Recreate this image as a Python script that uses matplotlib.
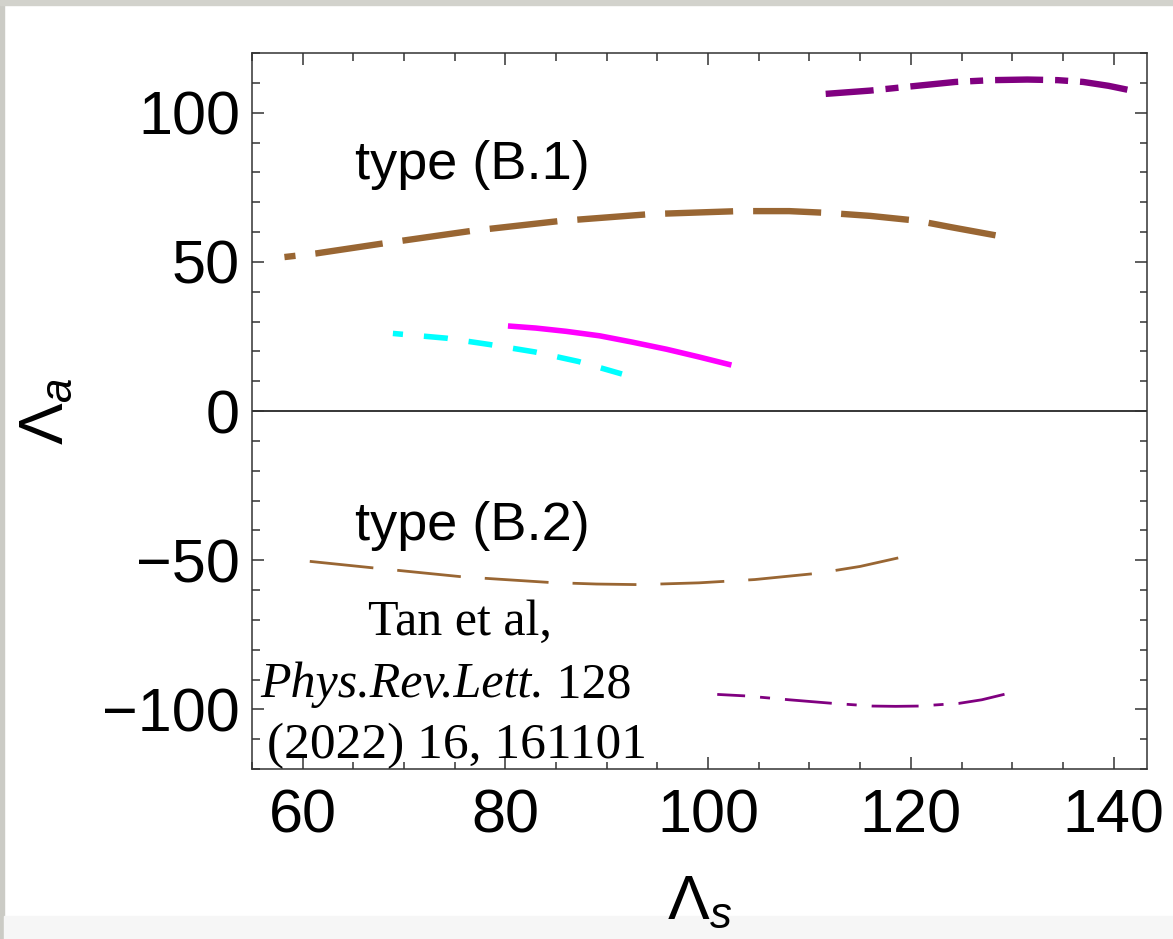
import numpy as np
import matplotlib
matplotlib.use("Agg")
import matplotlib.pyplot as plt
from matplotlib.patches import Rectangle
from matplotlib.ticker import MultipleLocator

plt.rcParams['font.family'] = ['Liberation Sans', 'DejaVu Sans']
plt.rcParams['mathtext.fontset'] = 'custom'
plt.rcParams['mathtext.rm'] = 'Liberation Sans'
plt.rcParams['mathtext.it'] = 'Liberation Sans:italic'
plt.rcParams['lines.scale_dashes'] = False

# curves (Lambda_s, Lambda_a)
b1_x = [58.2, 61.3, 68.0, 76.7, 85.4, 94.3, 103.0, 108.0, 111.8, 116.0, 120.6, 124.0, 129.3]
b1_y = [51.6, 52.8, 56.2, 60.4, 63.7, 66.0, 67.0, 67.0, 66.4, 65.4, 63.8, 61.6, 58.3]

top_x = [111.6, 116.0, 120.0, 124.4, 128.0, 131.5, 134.5, 137.0, 139.5, 141.5]
top_y = [106.3, 107.4, 108.8, 110.3, 110.9, 111.1, 110.9, 110.3, 109.0, 107.6]

cyan_x = [68.9, 74.2, 78.4, 82.9, 87.2, 91.5]
cyan_y = [26.0, 24.4, 22.3, 19.8, 16.6, 12.4]

mag_x = [80.25, 83.0, 86.0, 89.3, 92.5, 95.9, 99.0, 102.3]
mag_y = [28.5, 27.8, 26.7, 25.2, 23.1, 20.7, 18.2, 15.4]

b2_x = [60.7, 67.0, 75.8, 84.5, 89.0, 93.2, 99.1, 104.6, 110.8, 115.0, 119.6]
b2_y = [-50.4, -52.6, -55.6, -57.5, -58.0, -58.2, -57.6, -56.5, -54.4, -52.1, -48.6]

bot_x = [100.9, 103.7, 108.0, 112.3, 116.2, 118.5, 120.8, 124.75, 127.0, 129.3]
bot_y = [-95.0, -95.5, -96.8, -98.0, -98.9, -99.0, -98.9, -98.0, -96.8, -94.9]

brown = '#996633'
purple = '#800080'

fig = plt.figure(figsize=(11.73, 9.39), dpi=100)
fig.patch.set_facecolor('white')
# page edges of the screenshot
fig.add_artist(Rectangle((0, 0), 4/1173, 1, transform=fig.transFigure,
                         color='#cbcbc5', zorder=-2))
fig.add_artist(Rectangle((0, 1 - 5/939), 1, 5/939, transform=fig.transFigure,
                         color='#d2d2cc', zorder=-2))
fig.add_artist(Rectangle((4/1173, 0), 1, 23/939, transform=fig.transFigure,
                         color='#f6f6f6', zorder=-2))

ax = fig.add_axes([252/1173, 1 - 769/939, 895/1173, 716/939])

ax.plot(b1_x, b1_y, color=brown, lw=4.6, linestyle=(41, (49, 14.4)))
ax.plot(top_x, top_y, color=purple, lw=4.6, linestyle=(0, (34.6, 8.6, 9.4, 8.6)))
ax.plot(cyan_x, cyan_y, color='#00ffff', lw=4.0, linestyle=(10, (17.3, 15.1)))
ax.plot(mag_x, mag_y, color='#ff00ff', lw=4.0, solid_capstyle='butt')
ax.plot(b2_x, b2_y, color=brown, lw=2.0, linestyle=(0, (46, 17.3)))
ax.plot(bot_x, bot_y, color=purple, lw=2.0, linestyle=(13.7, (33.8, 10.8, 7.2, 10.8)))

ax.axhline(0, color='black', lw=1.1, zorder=1)

ax.set_xlim(55, 143.3)
ax.set_ylim(-120, 120)
ax.xaxis.set_major_locator(MultipleLocator(20))
ax.xaxis.set_minor_locator(MultipleLocator(5))
ax.yaxis.set_major_locator(MultipleLocator(50))
ax.yaxis.set_minor_locator(MultipleLocator(10))

ax.tick_params(which='both', direction='in', top=True, right=True,
               width=1.1, color='#333333')
ax.tick_params(which='major', length=8.6, labelsize=44)
ax.tick_params(axis='y', which='major', pad=8.6)
ax.tick_params(axis='x', which='major', pad=14)
ax.tick_params(which='minor', length=5.4)
for s in ax.spines.values():
    s.set_linewidth(1.1)
    s.set_color('#333333')

ax.set_xlabel(r'$\Lambda_s$', fontsize=45, labelpad=20)
ax.set_ylabel(r'$\Lambda_a$', fontsize=45, labelpad=19)

ax.text(65.15, 77.6, 'type (B.1)', fontsize=39, ha='left', va='baseline')
ax.text(65.15, -43.1, 'type (B.2)', fontsize=39, ha='left', va='baseline')

serif = ['Liberation Serif', 'DejaVu Serif']
ax.text(75.5, -75.1, 'Tan et al,', family=serif, fontsize=36,
        ha='center', va='baseline')
ax.text(83.8, -95.9, 'Phys.Rev.Lett.', family=serif, style='italic',
        fontsize=36, ha='right', va='baseline')
ax.text(83.8, -95.9, ' 128', family=serif, fontsize=36,
        ha='left', va='baseline')
ax.text(75.2, -116.3, '(2022) 16, 161101', family=serif, fontsize=37,
        ha='center', va='baseline', clip_on=False, zorder=5)

fig.savefig('out.png', dpi=100)
